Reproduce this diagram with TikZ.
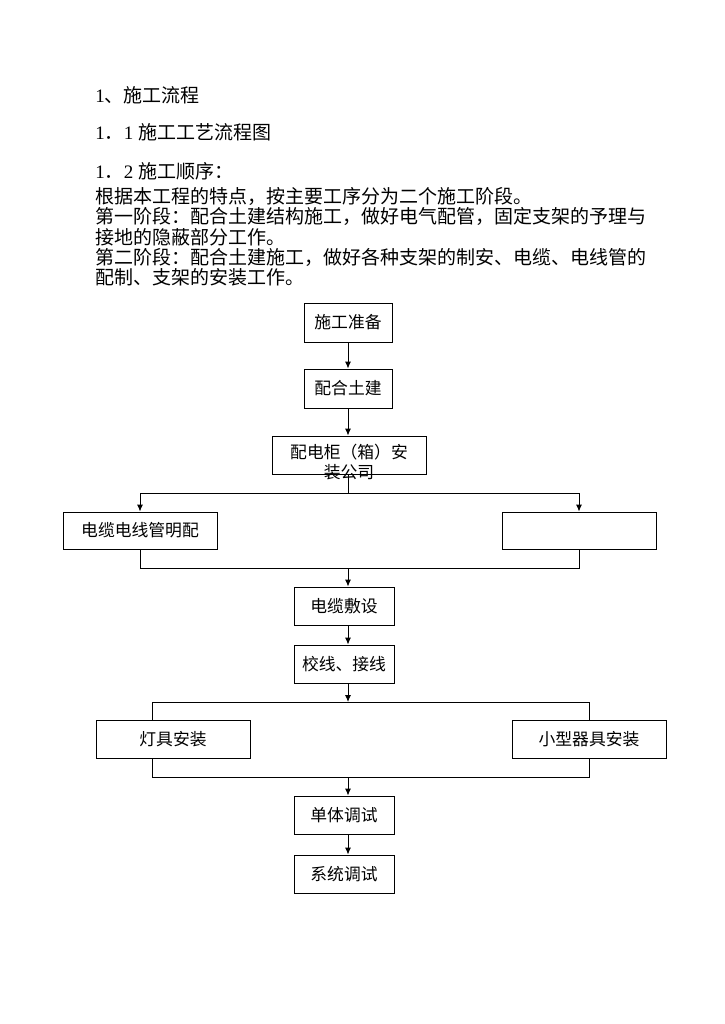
\documentclass[tikz,border=0pt]{standalone}
\usepackage{fontspec}
\setmainfont{Noto Sans CJK SC}
\newfontfamily\digitfont{Liberation Serif}
\usetikzlibrary{arrows.meta}

\tikzset{
  blk/.style={draw, line width=0.9pt, inner sep=0pt, font=\fontsize{16.8}{20}\selectfont},
  flow/.style={-{Latex[length=7pt,width=6pt]}},
  txt/.style={anchor=base west, inner sep=0pt, font=\fontsize{19}{20}\selectfont}
}

\begin{document}
\begin{tikzpicture}[x=1pt,y=-1pt,line width=0.9pt]

 \useasboundingbox (0,0) rectangle (724,1024);

 % headings and text
 \node[txt] (h1) at (95,103) {{\digitfont 1}、施工流程};
 \node[txt] (h2) at (95,140) {{\digitfont 1}．{\digitfont 1 }施工工艺流程图};
 \node[txt] (h3) at (95,179) {{\digitfont 1}．{\digitfont 2 }施工顺序：};
 \node[txt] (p1) at (95,204) {根据本工程的特点，按主要工序分为二个施工阶段。};
 \node[txt] (p2) at (95,224) {第一阶段：配合土建结构施工，做好电气配管，固定支架的予理与};
 \node[txt] (p3) at (95,244) {接地的隐蔽部分工作。};
 \node[txt] (p4) at (95,264) {第二阶段：配合土建施工，做好各种支架的制安、电缆、电线管的};
 \node[txt] (p5) at (95,284) {配制、支架的安装工作。};

 % boxes
 \node[blk, minimum width=88pt, minimum height=39pt] (prep) at (348,322.5) {施工准备};
 \node[blk, minimum width=88pt, minimum height=39pt] (civil) at (348,388.5) {配合土建};
 \node[blk, minimum width=154pt, minimum height=38pt] (cabinet) at (349,455) {};
 \node[font=\fontsize{16.8}{20}\selectfont, align=center, inner sep=0pt] (cabinettext) at (349,462) {配电柜（箱）安\\装公司};
 \node[blk, minimum width=154pt, minimum height=37pt] (cable) at (140,530.5) {电缆电线管明配};
 \node[blk, minimum width=154pt, minimum height=37pt] (blank) at (579,530.5) {};
 \node[blk, minimum width=100pt, minimum height=38pt] (lay) at (344,606) {电缆敷设};
 \node[blk, minimum width=100pt, minimum height=38pt] (wire) at (344,664) {校线、接线};
 \node[blk, minimum width=154pt, minimum height=38pt] (lamp) at (173,739) {灯具安装};
 \node[blk, minimum width=154pt, minimum height=38pt] (small) at (589,739) {小型器具安装};
 \node[blk, minimum width=100pt, minimum height=38pt] (unit) at (344,815) {单体调试};
 \node[blk, minimum width=100pt, minimum height=38pt] (sys) at (344,874) {系统调试};

 \coordinate (split1) at (348,493);
 \coordinate (join1) at (348,568);
 \coordinate (split2) at (348,702);
 \coordinate (join2) at (348,777);
 \coordinate (lampbr) at (152,702);

 % connectors
 \draw[flow] (prep.south) -- (civil.north);
 \draw[flow] (civil.south) -- (civil.south |- cabinet.north);
 \draw (split1 |- cabinet.south) -- (split1);
 \draw (cable |- split1) -- (blank |- split1);
 \draw[flow] (cable |- split1) -- (cable.north);
 \draw[flow] (blank |- split1) -- (blank.north);
 \draw (cable.south) -- (cable |- join1) -- (blank |- join1) -- (blank.south);
 \draw[flow] (join1) -- (join1 |- lay.north);
 \draw[flow] (lay.south -| join1) -- (wire.north -| join1);
 \draw[flow] (wire.south -| join1) -- (split2);
 \draw (lampbr |- lamp.north) -- (lampbr) -- (small |- split2) -- (small.north);
 \draw (lampbr |- lamp.south) -- (lampbr |- join2) -- (small |- join2) -- (small.south);
 \draw[flow] (join2) -- (join2 |- unit.north);
 \draw[flow] (unit.south -| join2) -- (sys.north -| join2);

\end{tikzpicture}
\end{document}
